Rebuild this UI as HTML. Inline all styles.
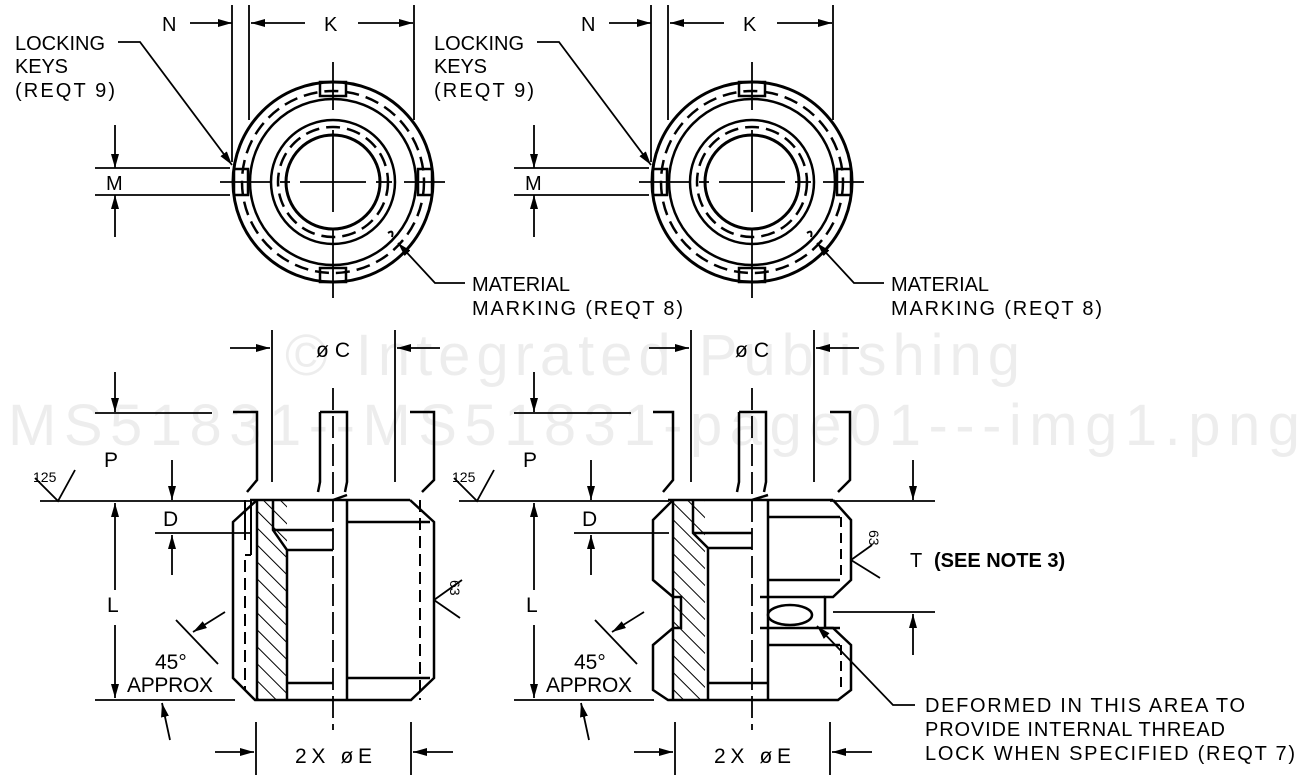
<!DOCTYPE html>
<html><head><meta charset="utf-8"><style>
html,body{margin:0;padding:0;background:#fff;width:1309px;height:781px;overflow:hidden}
svg{display:block}
text{font-family:"Liberation Sans",sans-serif;fill:#000}
</style></head><body>
<svg width="1309" height="781" viewBox="0 0 1309 781" xmlns="http://www.w3.org/2000/svg">
<defs>
<marker id="a" viewBox="0 0 14 8" refX="14" refY="4" markerWidth="14" markerHeight="8" markerUnits="userSpaceOnUse" orient="auto"><path d="M0,0 L14,4 L0,8 Z" fill="#000"/></marker>
<pattern id="h" width="12" height="12" patternUnits="userSpaceOnUse" patternTransform="rotate(-45)"><line x1="0" y1="0" x2="0" y2="12" stroke="#000" stroke-width="2"/></pattern>
<g id="top" fill="none" stroke="#000" stroke-width="2.5">
  <circle cx="333" cy="182" r="100" stroke-width="3"/>
  <circle cx="333" cy="182" r="91" stroke-dasharray="14,7"/>
  <circle cx="333" cy="182" r="83"/>
  <circle cx="333" cy="182" r="62"/>
  <circle cx="333" cy="182" r="55" stroke-dasharray="14,7"/>
  <circle cx="333" cy="182" r="47" stroke-width="3"/>
  <g stroke-width="1.8">
  <line x1="333" y1="62" x2="333" y2="110"/><line x1="333" y1="130" x2="333" y2="212"/><line x1="333" y1="228" x2="333" y2="298"/>
  <line x1="220" y1="182" x2="272" y2="182"/><line x1="280" y1="182" x2="290" y2="182"/><line x1="300" y1="182" x2="366" y2="182"/><line x1="376" y1="182" x2="392" y2="182"/><line x1="404" y1="182" x2="445" y2="182"/>
  <line x1="232" y1="5" x2="232" y2="162"/><line x1="249" y1="5" x2="249" y2="120"/><line x1="414" y1="5" x2="414" y2="120"/>
  <line x1="95" y1="168" x2="230" y2="168"/><line x1="95" y1="195" x2="230" y2="195"/>
  <line x1="115" y1="125" x2="115" y2="168" marker-end="url(#a)"/><line x1="115" y1="237" x2="115" y2="195" marker-end="url(#a)"/>
  <line x1="190" y1="23" x2="232" y2="23" marker-end="url(#a)"/>
  <line x1="305" y1="23" x2="251" y2="23" marker-end="url(#a)"/>
  <line x1="358" y1="23" x2="413" y2="23" marker-end="url(#a)"/>
  <polyline points="118,42 140,42 232,165" marker-end="url(#a)"/>
  <polyline points="465,283 435,283 398,243" marker-end="url(#a)"/>
  </g>
  <rect x="320" y="82" width="26" height="14" stroke-width="2.5"/>
  <rect x="320" y="268" width="26" height="14" stroke-width="2.5"/>
  <rect x="234" y="169" width="14" height="26" stroke-width="2.5"/>
  <rect x="418" y="169" width="14" height="26" stroke-width="2.5"/>
  <path d="M388,233 q6,-4 4,4" stroke-width="2"/>
</g>
<g id="dims" fill="none" stroke="#000" stroke-width="1.8">
  <line x1="272" y1="330" x2="272" y2="482"/><line x1="395" y1="330" x2="395" y2="482"/>
  <line x1="230" y1="348" x2="270" y2="348" marker-end="url(#a)"/><line x1="440" y1="348" x2="397" y2="348" marker-end="url(#a)"/>
  <line x1="95" y1="413" x2="212" y2="413"/><line x1="115" y1="372" x2="115" y2="412" marker-end="url(#a)"/>
  <line x1="40" y1="501" x2="250" y2="501"/>
  <polyline points="35,478 58,501 75,470"/>
  <line x1="172" y1="460" x2="172" y2="500" marker-end="url(#a)"/>
  <line x1="155" y1="533" x2="250" y2="533"/><line x1="172" y1="575" x2="172" y2="535" marker-end="url(#a)"/>
  <line x1="115" y1="590" x2="115" y2="503" marker-end="url(#a)"/>
  <line x1="115" y1="625" x2="115" y2="698" marker-end="url(#a)"/>
  <line x1="95" y1="700" x2="235" y2="700"/>
  <line x1="170" y1="740" x2="162" y2="703" marker-end="url(#a)"/>
  <line x1="176" y1="620" x2="218" y2="664"/>
  <line x1="225" y1="612" x2="193" y2="632" marker-end="url(#a)"/>
  <line x1="256" y1="722" x2="256" y2="775"/><line x1="411" y1="722" x2="411" y2="775"/>
  <line x1="215" y1="752" x2="254" y2="752" marker-end="url(#a)"/><line x1="453" y1="752" x2="413" y2="752" marker-end="url(#a)"/>
  <line x1="333" y1="388" x2="333" y2="730" stroke-dasharray="22,6"/>
</g>
</defs>
<rect width="1309" height="781" fill="#fff"/>
<g fill="#000">
<text x="285" y="375" font-size="58" textLength="735" style="fill:#000;fill-opacity:0.07">© Integrated Publishing</text>
<text x="8" y="445" font-size="58" textLength="1292" style="fill:#000;fill-opacity:0.07">MS51831--MS51831-page01---img1.png</text>
</g>
<use href="#top"/><use href="#top" transform="translate(419,0)"/>
<use href="#dims"/><use href="#dims" transform="translate(419,0)"/>

<!-- left body -->
<g fill="none" stroke="#000" stroke-width="2.5">
  <rect x="257" y="500" width="30" height="200" fill="url(#h)" stroke="none"/>
  <path d="M233,412 h24 v68 l-10,12 M320,412 h27 v70 l-2,10 M320,412 v70 l-2,10 M410,412 h24 v68 l-12,12"/>
  <path d="M250,500 H410 M257,500 L233,522 V678 L255,700 H411 L434,678 V522 L410,500"/>
  <path d="M257,500 V700 M273,500 V530 L287,550 V700 M273,530 H333 M287,550 H333 M287,683 H333"/>
  <path d="M347,500 V700 M347,522 H430 M347,678 H430 M333,500 L347,495"/>
  <path d="M245,500 V540 M251,500 V555 M245,555 h6" stroke-width="2"/>
  <path d="M245,560 V690 M420,500 V700" stroke-dasharray="12,6" stroke-width="2"/>
  <path d="M434,600 L462,580 M434,600 L460,618" stroke-width="1.8"/>
</g>
<!-- right body -->
<g fill="none" stroke="#000" stroke-width="2.5">
  <rect x="673" y="500" width="32" height="200" fill="url(#h)" stroke="none"/>
  <path d="M653,412 h20 v68 l-10,12 M739,412 h27 v70 l-2,10 M739,412 v70 l-2,10 M830,412 h20 v68 l-12,12"/>
  <path d="M668,500 H833 M673,500 L653,520 V580 L673,597 H681 V628 H673 L653,645 V690 L668,700 H838 L851,690 V645 L833,628 H825 V597 H833 L851,580 V520 L833,500"/>
  <path d="M673,500 V700 M693,500 V533 L708,548 V700 M693,533 H752 M708,548 H752 M708,683 H768"/>
  <path d="M768,500 V700 M768,517 H840 M768,580 H840 M760,597 H825 M760,628 H840 M768,645 H840 M752,500 L768,495"/>
  <path d="M841,517 V580 M841,645 V690" stroke-dasharray="10,6" stroke-width="2"/>
  <ellipse cx="790" cy="615" rx="22" ry="10"/>
  <path d="M851,560 L872,545 M851,560 L880,578" stroke-width="1.8"/>
  <line x1="830" y1="501" x2="935" y2="501" stroke-width="1.8"/>
  <line x1="913" y1="460" x2="913" y2="500" marker-end="url(#a)" stroke-width="1.8"/>
  <line x1="833" y1="612" x2="935" y2="612" stroke-width="1.8"/>
  <line x1="913" y1="655" x2="913" y2="614" marker-end="url(#a)" stroke-width="1.8"/>
  <polyline points="915,705 893,705 817,626" marker-end="url(#a)" stroke-width="1.8"/>
</g>

<g font-size="20">
<text x="15" y="50" textLength="90">LOCKING</text><text x="15" y="73" textLength="53">KEYS</text><text x="15" y="97" textLength="100">(REQT  9)</text>
<text x="434" y="50" textLength="90">LOCKING</text><text x="434" y="73" textLength="53">KEYS</text><text x="434" y="97" textLength="100">(REQT  9)</text>
<text x="162" y="31">N</text><text x="324" y="31">K</text><text x="581" y="31">N</text><text x="743" y="31">K</text>
<text x="106" y="190">M</text><text x="525" y="190">M</text>
<text x="472" y="291" textLength="98">MATERIAL</text><text x="472" y="315" textLength="211">MARKING  (REQT  8)</text>
<text x="891" y="291" textLength="98">MATERIAL</text><text x="891" y="315" textLength="211">MARKING  (REQT  8)</text>
</g>
<g font-size="21">
<text x="316" y="357" textLength="34">øC</text><text x="735" y="357" textLength="34">øC</text>
<text x="104" y="467">P</text><text x="523" y="467">P</text>
<text x="163" y="526">D</text><text x="582" y="526">D</text>
<text x="107" y="612">L</text><text x="526" y="612">L</text>
<text x="155" y="669">45°</text><text x="574" y="669">45°</text>
<text x="127" y="692" textLength="86">APPROX</text><text x="546" y="692" textLength="86">APPROX</text>
<text x="295" y="763" textLength="77">2X  øE</text><text x="714" y="763" textLength="77">2X  øE</text>
</g>
<g font-size="14">
<text x="33" y="482">125</text><text x="452" y="482">125</text>
<text transform="translate(450,580) rotate(90)">63</text>
<text transform="translate(869,530) rotate(90)">63</text>
</g>
<text x="910" y="567" font-size="20">T</text>
<text x="934" y="567" font-size="20" font-weight="bold">(SEE NOTE 3)</text>
<g font-size="20">
<text x="925" y="712" textLength="320">DEFORMED  IN  THIS  AREA  TO</text>
<text x="925" y="736" textLength="300">PROVIDE  INTERNAL  THREAD</text>
<text x="925" y="760" textLength="370">LOCK  WHEN  SPECIFIED  (REQT  7)</text>
</g>
</svg>
</body></html>
